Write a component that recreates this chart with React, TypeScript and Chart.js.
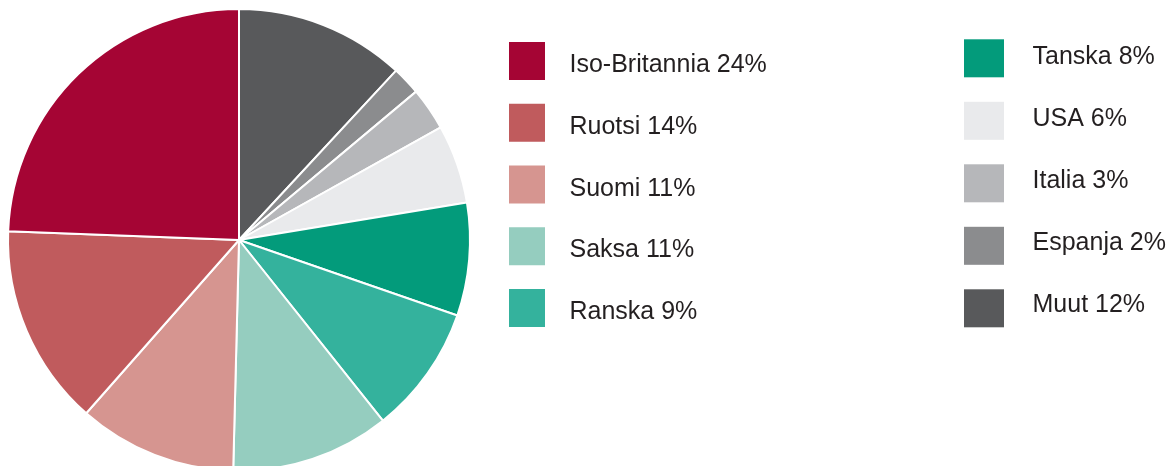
import React, { useEffect, useRef } from "react";
import { Chart, registerables } from "chart.js";

Chart.register(...registerables);

const countries = [
  "Iso-Britannia",
  "Ruotsi",
  "Suomi",
  "Saksa",
  "Ranska",
  "Tanska",
  "USA",
  "Italia",
  "Espanja",
  "Muut",
];
// slice sizes (legend shows them rounded)
const shares = [24.4, 14.1, 11.1, 11.1, 9.0, 7.9, 5.5, 3.0, 2.0, 11.9];
const colors = [
  "#A50534",
  "#C05B5D",
  "#D69590",
  "#95CDBF",
  "#34B29D",
  "#039B7B",
  "#E9EAEC",
  "#B6B7BA",
  "#8B8C8E",
  "#58595B",
];

const legendPlugin = {
  id: "twoColumnLegend",
  afterDraw(chart: any) {
    const ctx = chart.ctx;
    const ds = chart.data.datasets[0];
    const n = ds.data.length;
    // chart data is reversed (to go counter-clockwise); legend in original order
    const items = [] as { text: string; color: string }[];
    for (let i = n - 1; i >= 0; i--) {
      items.push({
        text: `${chart.data.labels[i]} ${Math.round(ds.data[i])}%`,
        color: ds.backgroundColor[i],
      });
    }
    ctx.save();
    ctx.font = '25px "Liberation Sans", Arial, sans-serif';
    ctx.textBaseline = "alphabetic";
    items.forEach((it, idx) => {
      const col = idx < 5 ? 0 : 1;
      const r = idx % 5;
      let sx, sy, sw, sh, tx, ty;
      if (col === 0) {
        sx = 509;
        sw = 36;
        sy = 42 + r * 61.75;
        sh = 38;
        tx = 569.5;
        ty = 72 + r * 61.8;
      } else {
        sx = 964;
        sw = 40;
        sy = 39.3 + r * 62.5;
        sh = 38;
        tx = 1032.5;
        ty = 63.7 + r * 62;
      }
      ctx.fillStyle = it.color;
      ctx.fillRect(sx, sy, sw, sh);
      ctx.fillStyle = "#231F20";
      ctx.fillText(it.text, tx, ty);
    });
    ctx.restore();
  },
};

export default function App() {
  const ref = useRef<HTMLCanvasElement | null>(null);
  useEffect(() => {
    if (!ref.current) return;
    const labels = [...countries].reverse();
    const data = [...shares].reverse();
    const bg = [...colors].reverse();
    const chart = new Chart(ref.current, {
      type: "pie",
      data: {
        labels,
        datasets: [
          {
            data,
            backgroundColor: bg,
            borderColor: "#FFFFFF",
            borderWidth: 2,
          },
        ],
      },
      options: {
        animation: false,
        responsive: false,
        radius: 231,
        layout: { padding: { left: 0, right: 690, top: 0, bottom: 0 } },
        plugins: {
          legend: { display: false },
          tooltip: { enabled: false },
        },
      },
      plugins: [legendPlugin],
    } as any);
    return () => chart.destroy();
  }, []);
  return (
    <div
      style={{
        position: "absolute",
        left: 0,
        top: 0,
        width: 1168,
        height: 466,
        overflow: "hidden",
        background: "#FFFFFF",
      }}
    >
      <canvas ref={ref} width={1168} height={480} style={{ display: "block" }} />
    </div>
  );
}
